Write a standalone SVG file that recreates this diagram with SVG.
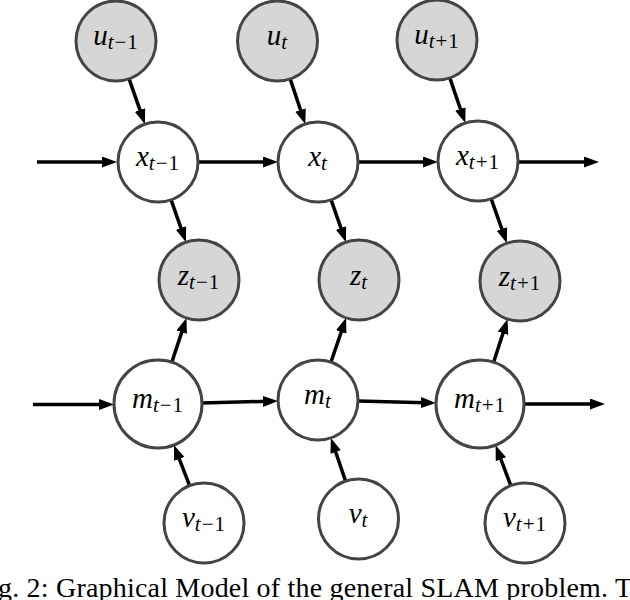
<svg xmlns="http://www.w3.org/2000/svg" width="630" height="600" viewBox="0 0 630 600">
<style>
.node circle{stroke:#444;stroke-width:3}
.obs circle{fill:#d6d6d6}
.hid circle{fill:#fff}
.lbl{font-family:"Liberation Serif","Times New Roman",serif;font-size:29px;font-style:italic;fill:#000;text-anchor:middle}
.sub{font-size:21px;font-style:italic;letter-spacing:1px}
.subn{font-size:21px;font-style:normal;letter-spacing:1px}
.edges line{stroke:#000;stroke-width:3.5;fill:none;marker-end:url(#ah)}
.cap{font-family:"Liberation Serif","Times New Roman",serif;font-size:28px;fill:#000}
</style>
<defs>
<marker id="ah" markerUnits="userSpaceOnUse" markerWidth="16" markerHeight="12" refX="4" refY="5.5" orient="auto">
<path d="M0,0 L15,5.5 L0,11 z" fill="#000"/>
</marker>
</defs>
<rect width="630" height="600" fill="#fff"/>
<g class="edges" id="connectors">
<line x1="37" y1="162" x2="106" y2="162"/>
<line x1="198" y1="162" x2="267" y2="162"/>
<line x1="358" y1="162" x2="427" y2="162"/>
<line x1="519" y1="162" x2="588" y2="162"/>
<line x1="129.1" y1="78.8" x2="141.3" y2="113.8"/>
<line x1="290.2" y1="78.9" x2="301.8" y2="113.7"/>
<line x1="449.8" y1="77.9" x2="461.7" y2="112.7"/>
<line x1="171.1" y1="199.8" x2="182.3" y2="231.8"/>
<line x1="331.1" y1="199.8" x2="342.3" y2="231.8"/>
<line x1="491.2" y1="198.8" x2="503.2" y2="232.8"/>
<line x1="171.8" y1="362.2" x2="183.0" y2="328.4"/>
<line x1="330.9" y1="362.2" x2="342.5" y2="328.2"/>
<line x1="493.6" y1="362.2" x2="504.2" y2="329.5"/>
<line x1="189.6" y1="485.7" x2="177.9" y2="455.3"/>
<line x1="345.6" y1="481.1" x2="334.4" y2="448.3"/>
<line x1="510.8" y1="485.6" x2="499.5" y2="455.5"/>
<line x1="33" y1="404.5" x2="103" y2="404.5"/>
<line x1="202" y1="403" x2="267" y2="401.3"/>
<line x1="358" y1="401" x2="425" y2="402.7"/>
<line x1="524" y1="404" x2="594" y2="404"/>
</g>
<g id="u_tm1" class="node obs"><circle cx="116" cy="41" r="40"/><text class="lbl" x="116" y="45">u<tspan class="sub" dy="4">t</tspan><tspan class="subn">−1</tspan></text></g>
<g id="u_t" class="node obs"><circle cx="277.5" cy="41" r="40"/><text class="lbl" x="277.5" y="45">u<tspan class="sub" dy="4">t</tspan></text></g>
<g id="u_tp1" class="node obs"><circle cx="437" cy="40" r="40"/><text class="lbl" x="437" y="44">u<tspan class="sub" dy="4">t</tspan><tspan class="subn">+1</tspan></text></g>
<g id="x_tm1" class="node hid"><circle cx="158" cy="162" r="40"/><text class="lbl" x="158" y="166">x<tspan class="sub" dy="4">t</tspan><tspan class="subn">−1</tspan></text></g>
<g id="x_t" class="node hid"><circle cx="318" cy="162" r="40"/><text class="lbl" x="318" y="166">x<tspan class="sub" dy="4">t</tspan></text></g>
<g id="x_tp1" class="node hid"><circle cx="478" cy="161" r="40"/><text class="lbl" x="478" y="165">x<tspan class="sub" dy="4">t</tspan><tspan class="subn">+1</tspan></text></g>
<g id="z_tm1" class="node obs"><circle cx="199" cy="280" r="40"/><text class="lbl" x="199" y="285">z<tspan class="sub" dy="4">t</tspan><tspan class="subn">−1</tspan></text></g>
<g id="z_t" class="node obs"><circle cx="359" cy="280" r="40"/><text class="lbl" x="359" y="285">z<tspan class="sub" dy="4">t</tspan></text></g>
<g id="z_tp1" class="node obs"><circle cx="520" cy="281" r="40"/><text class="lbl" x="520" y="286">z<tspan class="sub" dy="4">t</tspan><tspan class="subn">+1</tspan></text></g>
<g id="m_tm1" class="node hid"><circle cx="158" cy="404" r="44"/><text class="lbl" x="158" y="408">m<tspan class="sub" dy="4">t</tspan><tspan class="subn">−1</tspan></text></g>
<g id="m_t" class="node hid"><circle cx="318" cy="400" r="40"/><text class="lbl" x="318" y="404">m<tspan class="sub" dy="4">t</tspan></text></g>
<g id="m_tp1" class="node hid"><circle cx="480" cy="404" r="44"/><text class="lbl" x="480" y="408">m<tspan class="sub" dy="4">t</tspan><tspan class="subn">+1</tspan></text></g>
<g id="v_tm1" class="node hid"><circle cx="204" cy="523" r="40"/><text class="lbl" x="204" y="527">v<tspan class="sub" dy="4">t</tspan><tspan class="subn">−1</tspan></text></g>
<g id="v_t" class="node hid"><circle cx="358.5" cy="519" r="40"/><text class="lbl" x="358.5" y="523">v<tspan class="sub" dy="4">t</tspan></text></g>
<g id="v_tp1" class="node hid"><circle cx="525" cy="523" r="40"/><text class="lbl" x="525" y="527">v<tspan class="sub" dy="4">t</tspan><tspan class="subn">+1</tspan></text></g>
<text class="cap" x="-2" y="597" textLength="634" lengthAdjust="spacing">g. 2: Graphical Model of the general SLAM problem. T</text>
</svg>
